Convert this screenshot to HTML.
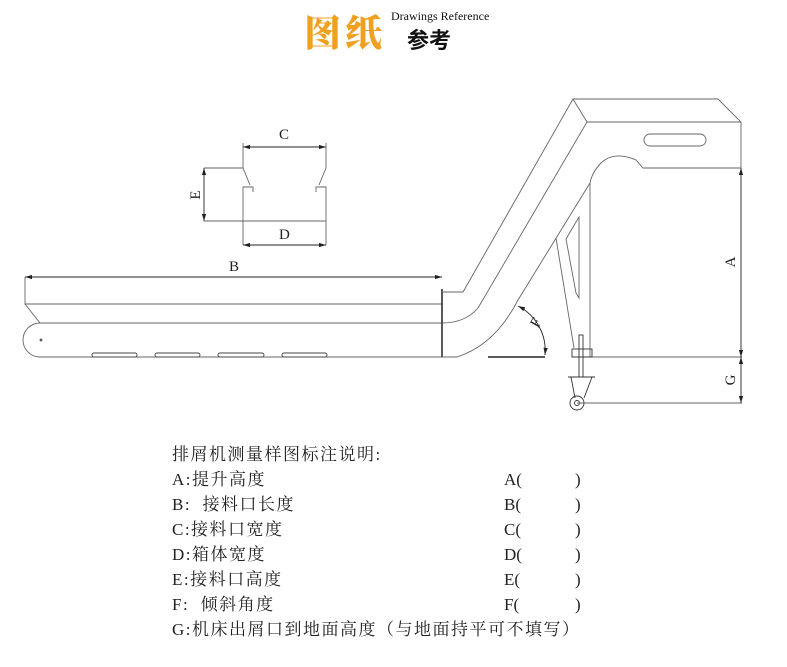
<!DOCTYPE html>
<html><head><meta charset="utf-8"><style>
body{margin:0;background:#fff;width:787px;height:667px;overflow:hidden;position:relative}
.t{position:absolute;font-family:"Liberation Serif","Noto Serif CJK SC",serif;font-size:17px;letter-spacing:1.5px;color:#222;white-space:pre;line-height:20px}
.r{letter-spacing:0}
</style></head><body>
<div style="position:absolute;left:304px;top:8px;font-family:'Noto Serif CJK SC',serif;font-weight:900;font-size:37px;color:#f0a020;letter-spacing:4px;line-height:44px">图纸</div>
<div style="position:absolute;left:391px;top:9px;font-family:'Liberation Serif',serif;font-size:12px;color:#111">Drawings Reference</div>
<div style="position:absolute;left:407px;top:24px;font-family:'Noto Sans CJK SC',sans-serif;font-weight:700;font-size:22px;color:#111;line-height:30px">参考</div>
<svg width="787" height="667" style="position:absolute;left:0;top:0" fill="none" stroke="#666" stroke-width="0.9">
<defs><marker id="a" viewBox="0 0 10 6" refX="10" refY="3" markerWidth="8" markerHeight="5" orient="auto-start-reverse"><path d="M0,0L10,3L0,6z" fill="#222" stroke="none"/></marker></defs>
<line x1="25" y1="277" x2="442" y2="277" stroke="#222" marker-start="url(#a)" marker-end="url(#a)"/>
<path d="M25,277V304H442M25,304L40,323H442M40,323A17,17 0 0 0 40,357H442"/>
<line x1="442" y1="289" x2="442" y2="357" stroke="#222" stroke-width="1.5"/>
<circle cx="41" cy="340" r="1" fill="#333"/>
<g fill="#fff" stroke="#444"><rect x="92" y="353" width="45" height="4" rx="2"/><rect x="155" y="353" width="45" height="4" rx="2"/><rect x="218" y="353" width="46" height="4" rx="2"/><rect x="282" y="353" width="45" height="4" rx="2"/></g>
<path d="M442,292H463L573,99H718L741,122V168H643L636,160Q615,151 602,162Q592,172 590,183V357"/>
<path d="M573,99L587,122H741M587,122L478,308Q465,323 442,323"/>
<path d="M590,183L518,300Q495,345 457,357H442"/>
<rect x="644" y="134" width="62" height="12" rx="6"/>
<path d="M556,238L574,348M579,217V298L576,293L566,239Z"/>
<line x1="488" y1="357" x2="545" y2="357" stroke="#222" stroke-width="1.5"/>
<line x1="572" y1="357" x2="742" y2="357"/>
<path d="M518,306A50,50 0 0 1 545,355" stroke="#222" marker-start="url(#a)" marker-end="url(#a)"/>
<rect x="579" y="335" width="4" height="42" stroke="#333"/>
<rect x="572" y="349" width="20" height="8" stroke="#333"/>
<path d="M568,377H595M571,377L575,398M592,377L584,398" stroke="#333"/>
<circle cx="577" cy="403" r="7" stroke="#333"/><circle cx="577" cy="403" r="2.5" stroke="#333"/>
<line x1="577" y1="403" x2="742" y2="403"/>
<line x1="741" y1="168" x2="741" y2="357" stroke="#222" marker-start="url(#a)" marker-end="url(#a)"/>
<line x1="741" y1="357" x2="741" y2="403" stroke="#222" marker-start="url(#a)" marker-end="url(#a)"/>
<line x1="243" y1="147" x2="326" y2="147" stroke="#222" marker-start="url(#a)" marker-end="url(#a)"/>
<path d="M243,143V168L250,185M326,143V168L319,185M204,168H243M253,192V187H243V245M316,192V187H326V245M204,221H326"/>
<line x1="204" y1="168" x2="204" y2="221" stroke="#222" marker-start="url(#a)" marker-end="url(#a)"/>
<line x1="243" y1="245" x2="326" y2="245" stroke="#222" marker-start="url(#a)" marker-end="url(#a)"/>
<g fill="#222" stroke="none" font-family="Liberation Serif,serif" font-size="15">
<text x="279" y="139">C</text><text x="279" y="239">D</text><text x="229" y="271">B</text>
<text transform="translate(200,195) rotate(-90)" text-anchor="middle">E</text>
<text transform="translate(735,262) rotate(-90)" text-anchor="middle">A</text>
<text transform="translate(735,380) rotate(-90)" text-anchor="middle">G</text>
<text transform="translate(540,325) rotate(-60)" text-anchor="middle">F</text>
</g>
</svg>
<div class="t" style="left:172px;top:445px">排屑机测量样图标注说明:</div>
<div class="t" style="left:172px;top:470px">A:提升高度</div>
<div class="t" style="left:172px;top:495px">B:  接料口长度</div>
<div class="t" style="left:172px;top:520px">C:接料口宽度</div>
<div class="t" style="left:172px;top:545px">D:箱体宽度</div>
<div class="t" style="left:172px;top:570px">E:接料口高度</div>
<div class="t" style="left:172px;top:595px">F:  倾斜角度</div>
<div class="t" style="left:172px;top:620px">G:机床出屑口到地面高度（与地面持平可不填写）</div>
<div class="t r" style="left:504px;top:470px">A(</div><div class="t r" style="left:575px;top:470px">)</div>
<div class="t r" style="left:504px;top:495px">B(</div><div class="t r" style="left:575px;top:495px">)</div>
<div class="t r" style="left:504px;top:520px">C(</div><div class="t r" style="left:575px;top:520px">)</div>
<div class="t r" style="left:504px;top:545px">D(</div><div class="t r" style="left:575px;top:545px">)</div>
<div class="t r" style="left:504px;top:570px">E(</div><div class="t r" style="left:575px;top:570px">)</div>
<div class="t r" style="left:504px;top:595px">F(</div><div class="t r" style="left:575px;top:595px">)</div>
</body></html>
